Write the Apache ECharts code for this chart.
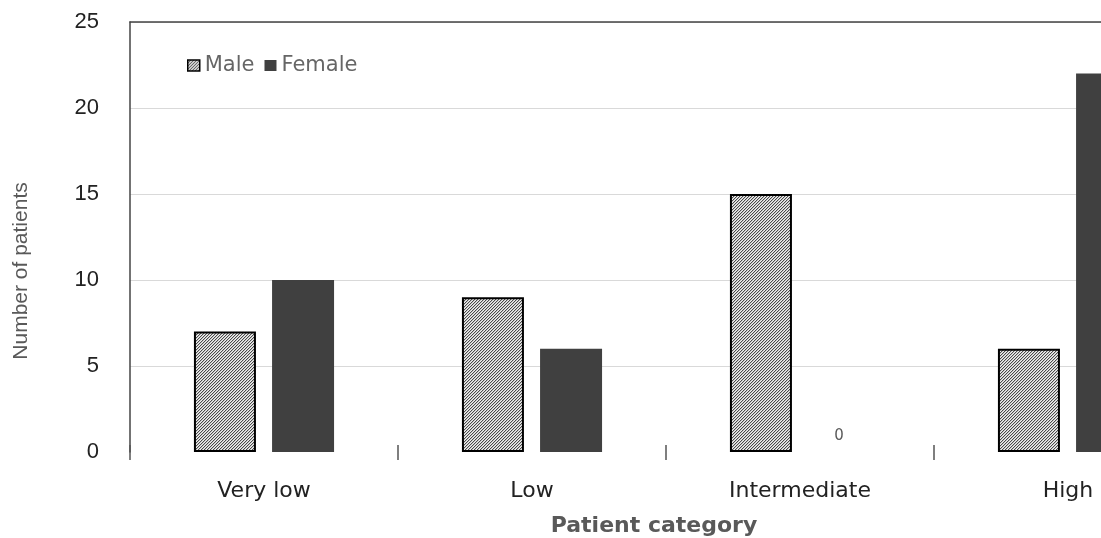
<!DOCTYPE html>
<html>
<head>
<meta charset="utf-8">
<script src="https://cdn.jsdelivr.net/npm/echarts@6/dist/echarts.min.js"></script>
<style>html,body{margin:0;padding:0;background:#fff;overflow:hidden;}#c{width:1101px;height:538px;}</style>
</head>
<body>
<div id="c"></div>
<script>
const categories = ['Very low', 'Low', 'Intermediate', 'High'];
const maleValues = [7, 9, 15, 6];
const femaleValues = [10, 6, 0, 22];
const yTicks = [0, 5, 10, 15, 20, 25];

function makePattern() {
  const cv = document.createElement('canvas');
  cv.width = 3; cv.height = 3;
  const ctx = cv.getContext('2d');
  ctx.fillStyle = '#f0f0f0';
  ctx.fillRect(0, 0, 3, 3);
  ctx.fillStyle = '#4a4a4a';
  for (let i = 0; i < 3; i++) ctx.fillRect(2 - i, i, 1, 1);
  ctx.fillStyle = '#c4c4c4';
  for (let i = 0; i < 3; i++) ctx.fillRect((3 - i) % 3, i, 1, 1);
  return cv;
}
const pat = { image: makePattern(), repeat: 'repeat' };

const chart = echarts.init(document.getElementById('c'), null, { renderer: 'canvas' });
chart.setOption({
  animation: false,
  backgroundColor: '#fff',
  grid: { left: 130, top: 22, width: 1072, height: 430, outerBoundsMode: 'none', containLabel: false },
  legend: {
    left: 182, top: 50,
    itemWidth: 12, itemHeight: 11, itemGap: 10,
    textStyle: { fontFamily: 'DejaVu Sans', fontSize: 21, color: '#666' },
    data: [
      { name: 'Male', icon: 'rect', itemStyle: { color: pat, borderColor: '#000', borderWidth: 1.5 } },
      { name: 'Female', icon: 'rect' }
    ]
  },
  graphic: [{
    type: 'text',
    x: 21, y: 271,
    rotation: Math.PI / 2,
    style: {
      text: 'Number of patients',
      fontFamily: 'Liberation Sans', fontSize: 21, fill: '#595959',
      align: 'center', verticalAlign: 'middle'
    }
  }],
  xAxis: [{
    type: 'category',
    data: categories,
    axisLine: { show: false },
    axisTick: { show: true, length: 8, lineStyle: { color: '#555', width: 1.5 } },
    axisLabel: { margin: 28, fontFamily: 'DejaVu Sans', fontSize: 22, color: '#222' },
    name: 'Patient category',
    nameLocation: 'middle',
    nameGap: 63,
    nameTextStyle: { fontFamily: 'DejaVu Sans', fontWeight: 'bold', fontSize: 22, color: '#595959', padding: [0, 24, 0, 0] }
  }, {
    type: 'category',
    position: 'top',
    data: categories,
    axisLine: { show: true, lineStyle: { color: '#444', width: 1.5 } },
    axisTick: { show: false },
    axisLabel: { show: false }
  }, {
    type: 'category',
    position: 'bottom',
    offset: 0,
    data: categories,
    axisLine: { show: false },
    axisTick: { show: true, inside: true, length: 7, lineStyle: { color: '#555', width: 1.5 } },
    axisLabel: { show: false }
  }],
  yAxis: {
    type: 'value',
    min: 0, max: 25, interval: 5,
    axisLine: { show: true, lineStyle: { color: '#444', width: 1.5 } },
    axisTick: { show: false },
    splitLine: { showMinLine: false, lineStyle: { color: '#d9d9d9', width: 1 } },
    axisLabel: {
      margin: 31, fontFamily: 'Liberation Sans', fontSize: 22, color: '#222',
      formatter: v => (yTicks.indexOf(v) >= 0 ? String(v) : '')
    }
  },
  series: [{
    name: 'Male',
    type: 'bar',
    data: maleValues,
    barWidth: 62,
    barGap: '26%',
    itemStyle: { color: pat, borderColor: '#000', borderWidth: 2 }
  }, {
    name: 'Female',
    type: 'bar',
    data: femaleValues.map(v => v === 0 ? {
      value: v,
      label: { show: true, position: 'top', distance: 8, fontFamily: 'DejaVu Sans', fontSize: 15, color: '#595959' }
    } : v),
    barWidth: 62,
    itemStyle: { color: '#404040' }
  }]
});
</script>
</body>
</html>
